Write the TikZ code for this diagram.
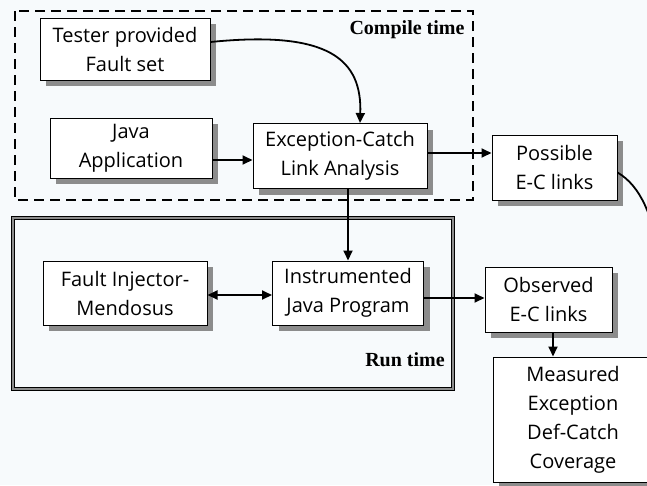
\documentclass[tikz,border=0pt]{standalone}
\usepackage{fontspec}
\setmainfont{Liberation Serif}
\newfontfamily\boxfont{Open Sans}
\usetikzlibrary{arrows.meta,calc}
\definecolor{bgc}{HTML}{F7FAFC}
\definecolor{shdc}{HTML}{8C8C8C}
\begin{document}
\begin{tikzpicture}[x=1pt,y=-1pt,
  blk/.style={draw=black,line width=1pt,fill=white,align=center,inner sep=0pt,
    font=\boxfont\fontsize{20}{29}\selectfont},
  shd/.style={fill=shdc,draw=none},
  arr/.style={line width=1.8pt,-{Triangle[length=10pt,width=9pt]}},
  lbl/.style={font=\bfseries\fontsize{20}{22}\selectfont}]
\fill[bgc] (0,0) rectangle (647,485);
\useasboundingbox (0,0) rectangle (647,485);
% compile time region
\draw[line width=2.4pt,dash pattern=on 10pt off 6pt] (15,11) rectangle (473,200);
\node[lbl] (ct) at (407,30) {Compile time};
% run time region
\draw[line width=0.8pt,double=black!45,double distance=2pt] (13,218) rectangle (453,389);
\node[lbl] (rt) at (405,360) {Run time};
% shadows
\fill[shd] (46,24) rectangle (216,86);
\fill[shd] (56,124) rectangle (218,184);
\fill[shd] (259,129.5) rectangle (433,194.5);
\fill[shd] (498,141) rectangle (623,206);
\fill[shd] (49,267) rectangle (213,331);
\fill[shd] (278.5,267) rectangle (429.5,331);
\fill[shd] (491,273) rectangle (618,338);
\fill[shd] (499,363) rectangle (659,488);
% boxes
\node[blk,minimum width=170pt,minimum height=62pt] (tester) at (125,49) {Tester provided\\Fault set};
\node[blk,minimum width=162pt,minimum height=60pt] (java) at (131,148) {Java\\Application};
\node[blk,minimum width=174pt,minimum height=65pt] (ec) at (340,156) {Exception-Catch\\Link Analysis};
\node[blk,minimum width=125pt,minimum height=65pt] (poss) at (554.5,167.5) {Possible\\E-C links};
\node[blk,minimum width=164pt,minimum height=64pt] (fi) at (125,293) {Fault Injector-\\Mendosus};
\node[blk,minimum width=151pt,minimum height=64pt] (ij) at (348,293) {Instrumented\\Java Program};
\node[blk,minimum width=127pt,minimum height=65pt] (obs) at (548.5,299.5) {Observed\\E-C links};
\node[blk,minimum width=160pt,minimum height=125pt] (meas) at (573,419.5) {Measured\\Exception\\Def-Catch\\Coverage};
% connectors
\coordinate (tA) at ($(tester.east)+(0,-7)$);
\coordinate (ecT) at ($(ec.north)+(20,0)$);
\draw[arr] (tA) .. controls (330,30) and (362,60) .. (ecT);
\draw[arr] (java.east |- 0,160) -- (ec.west |- 0,160);
\draw[arr] (ec.east |- 0,153) -- (poss.west |- 0,153);
\draw[arr] (ij.north |- ec.south) -- (ij.north);
\draw[line width=1.8pt,{Triangle[length=10pt,width=9pt]}-{Triangle[length=10pt,width=9pt]}] (fi.east |- 0,295) -- (ij.west |- 0,295);
\draw[arr] (ij.east |- 0,298) -- (obs.west |- 0,298);
\draw[arr] (obs.south -| 553,0) -- (meas.north -| 553,0);
\coordinate (pR) at ($(poss.east)+(0,5)$);
\coordinate (mT) at (650,357);
\draw[arr] (pR) .. controls (665,200) and (665,300) .. (mT);
\end{tikzpicture}
\end{document}
